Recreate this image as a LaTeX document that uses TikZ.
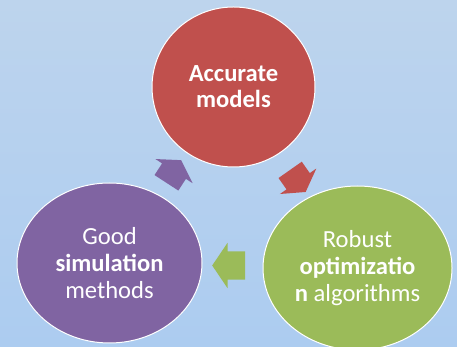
\documentclass[tikz,border=0pt]{standalone}
\usepackage{fontspec}
\setmainfont{Carlito}
\usetikzlibrary{shapes.geometric,shapes.arrows,calc}
\definecolor{bgtop}{RGB}{189,212,237}
\definecolor{bgbot}{RGB}{172,204,240}
\definecolor{accred}{RGB}{192,80,77}
\definecolor{simpurple}{RGB}{128,100,162}
\definecolor{robgreen}{RGB}{155,187,89}

\begin{document}
\begin{tikzpicture}[x=1pt, y=1pt,
  blob/.style={ellipse, draw=white, line width=1pt, text=white, align=center, inner sep=0pt,
    font=\fontsize{24.6}{27}\selectfont},
  blockarr/.style={single arrow, draw=none, inner xsep=0pt, inner ysep=14pt,
    single arrow head extend=8pt, minimum height=27pt, single arrow tip angle=119}]
\useasboundingbox (0,0) rectangle (457,347);
\shade[top color=bgtop, bottom color=bgbot] (0,0) rectangle (457,347);
% the three circles
\node[blob, fill=accred, minimum width=163pt, minimum height=160pt,
  font=\fontsize{24.6}{26}\selectfont] (models) at (233.5,260) {\textbf{Accurate}\\\textbf{models}};
\node[blob, fill=robgreen, minimum width=189pt, minimum height=164pt] (robust) at (357.5,79)
  {Robust\\\textbf{optimizatio}\\\textbf{n} algorithms};
\node[blob, fill=simpurple, minimum width=185pt, minimum height=160pt] (simul) at (109.5,84)
  {Good\\\textbf{simulation}\\methods};
% block arrows between them
\node[blockarr, fill=accred, rotate=-55] (modtorob) at ($(models)!.5!(robust)$) {};
\node[blockarr, fill=robgreen, rotate=180, minimum height=33pt, single arrow tip angle=112,
  single arrow head extend=8.5pt] (robtosim) at ($(robust)!.5!(simul)$) {};
\node[blockarr, fill=simpurple, rotate=57] (simtomod) at ($(simul)!.5!(models)$) {};
\end{tikzpicture}
\end{document}
